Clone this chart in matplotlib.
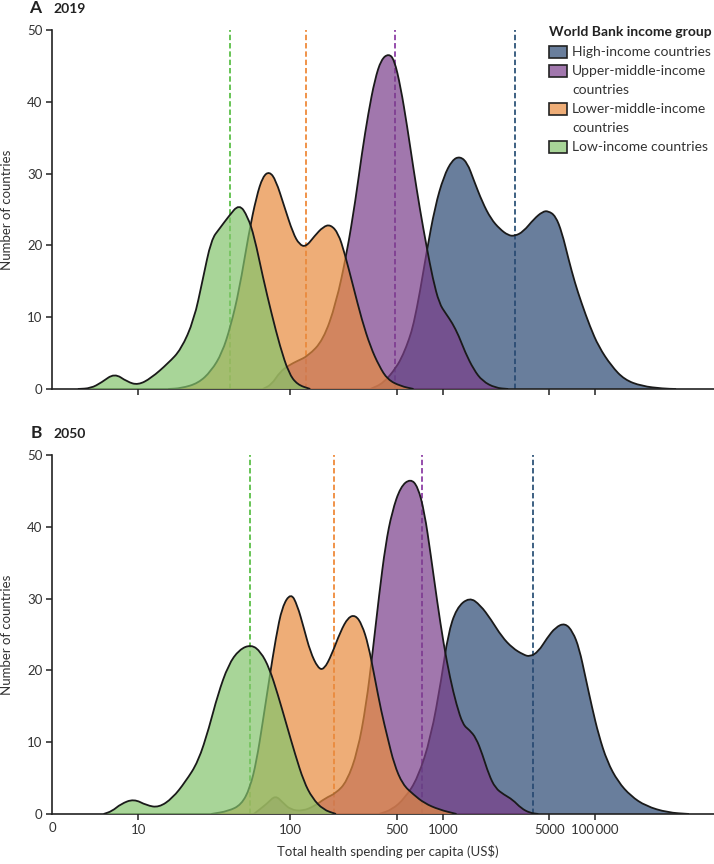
import matplotlib
matplotlib.use('Agg')
import matplotlib.pyplot as plt
from matplotlib.patches import PathPatch, Rectangle
from matplotlib.path import Path
from matplotlib.colors import to_rgba
import numpy as np

plt.rcParams['font.family'] = ['Lato', 'DejaVu Sans']

groups = ['High-income countries', 'Upper-middle-income\ncountries',
          'Lower-middle-income\ncountries', 'Low-income countries']
fill_colors = ['#2a4872', '#7a3e8a', '#e88b3e', '#83c46c']
mean_colors = ['#2d5478', '#8e3fa6', '#ef8a3a', '#5cbf48']

# curves: x = log10(US$ per capita), y = number of countries
# ---- 2019 ----
high_2019_x = [2.525, 2.610, 2.695, 2.740, 2.780, 2.808, 2.850, 2.893, 2.949, 3.006, 3.062, 3.113,
               3.161, 3.203, 3.260, 3.316, 3.373, 3.429, 3.472, 3.528, 3.599, 3.655, 3.692, 3.740,
               3.782, 3.825, 3.867, 3.910, 3.966, 4.023, 4.107, 4.192, 4.305, 4.446, 4.531]
high_2019_y = [0, 0.8, 3.0, 4.8, 7.0, 9.0, 13.5, 19.0, 25.4, 29.6, 31.9, 32.4,
               31.5, 29.1, 26.0, 23.7, 22.3, 21.4, 21.3, 21.9, 23.7, 24.7, 24.8, 24.1,
               21.8, 18.1, 14.8, 12.0, 8.7, 5.9, 3.2, 1.3, 0.4, 0.05, 0]

upper_2019_x = [1.819, 1.876, 1.932, 1.990, 2.045, 2.116, 2.215, 2.299, 2.370, 2.427, 2.469, 2.511,
                2.554, 2.596, 2.644, 2.681, 2.723, 2.766, 2.808, 2.850, 2.893, 2.935, 2.977, 3.020,
                3.062, 3.105, 3.147, 3.203, 3.260, 3.345, 3.429]
upper_2019_y = [0, 0.6, 2.4, 3.3, 3.9, 4.6, 6.8, 11.9, 18.9, 26.3, 32.8, 38.4,
                43.1, 45.9, 46.7, 45.9, 42.1, 36.6, 30.6, 25.0, 19.9, 15.3, 11.9, 10.5,
                9.2, 7.4, 5.1, 2.7, 1.1, 0.15, 0]

lower_2019_x = [1.198, 1.282, 1.395, 1.480, 1.551, 1.607, 1.664, 1.726, 1.777, 1.819, 1.862, 1.904,
                1.960, 2.017, 2.059, 2.102, 2.158, 2.215, 2.263, 2.314, 2.356, 2.412, 2.469, 2.525,
                2.582, 2.638, 2.723, 2.808]
lower_2019_y = [0, 0.1, 0.8, 2.5, 5.0, 8.7, 13.8, 21.6, 26.8, 29.6, 30.3, 29.1,
                25.4, 21.7, 20.1, 19.8, 21.3, 22.6, 22.9, 21.7, 18.9, 14.3, 9.6, 5.9,
                3.2, 1.3, 0.4, 0]

low_2019_x = [0.605, 0.690, 0.760, 0.845, 0.929, 1.000, 1.085, 1.198, 1.282, 1.367, 1.424, 1.480,
              1.537, 1.593, 1.664, 1.720, 1.763, 1.819, 1.876, 1.932, 1.989, 2.045, 2.130]
low_2019_y = [0, 0.1, 0.9, 2.2, 1.0, 0.55, 1.5, 3.6, 5.5, 9.6, 15.2, 20.8,
              22.4, 24.0, 25.8, 24.0, 21.2, 15.6, 10.5, 5.9, 2.2, 0.6, 0]

means_2019 = [3.472, 2.689, 2.105, 1.605]

# ---- 2050 ----
high_2050_x = [2.582, 2.667, 2.751, 2.836, 2.921, 2.992, 3.034, 3.090, 3.175, 3.246, 3.316, 3.387,
               3.458, 3.528, 3.571, 3.627, 3.684, 3.740, 3.802, 3.853, 3.895, 3.938, 3.980, 4.023,
               4.079, 4.150, 4.234, 4.333, 4.475, 4.616]
high_2050_y = [0, 0.6, 2.2, 5.0, 10.6, 18.9, 25.0, 28.7, 30.2, 29.1, 27.1, 24.7,
               23.1, 22.2, 21.9, 22.6, 24.5, 26.0, 26.6, 25.4, 23.1, 18.9, 14.8, 11.0,
               7.3, 4.5, 2.5, 1.1, 0.2, 0]

upper_2050_x = [1.760, 1.850, 1.901, 1.950, 2.000, 2.079, 2.158, 2.229, 2.299, 2.370, 2.441, 2.497,
                2.540, 2.582, 2.624, 2.667, 2.723, 2.788, 2.836, 2.879, 2.921, 2.963, 3.006, 3.048,
                3.090, 3.133, 3.175, 3.218, 3.260, 3.302, 3.345, 3.401, 3.458, 3.514, 3.571, 3.627]
upper_2050_y = [0, 1.5, 2.6, 1.6, 0.6, 0.4, 1.1, 2.2, 2.9, 4.5, 8.7, 15.2,
                22.6, 30.5, 37.5, 42.1, 45.6, 46.7, 45.6, 42.1, 36.1, 29.6, 23.6, 18.9,
                15.2, 12.4, 11.7, 10.6, 8.3, 5.5, 3.6, 2.7, 2.0, 0.8, 0.15, 0]

lower_2050_x = [1.480, 1.593, 1.678, 1.734, 1.777, 1.819, 1.862, 1.904, 1.946, 2.003, 2.045, 2.088,
                2.130, 2.181, 2.220, 2.271, 2.328, 2.379, 2.427, 2.469, 2.511, 2.554, 2.596, 2.638,
                2.681, 2.737, 2.808, 2.879, 2.977, 3.090]
lower_2050_y = [0, 0.4, 1.3, 3.6, 7.3, 12.9, 18.9, 24.5, 28.9, 30.8, 29.1, 25.9,
                22.6, 20.3, 20.1, 22.2, 25.4, 27.4, 27.7, 26.4, 23.6, 18.9, 14.3, 10.6,
                6.9, 4.1, 2.7, 1.5, 0.6, 0]

low_2050_x = [0.774, 0.830, 0.887, 0.972, 1.056, 1.136, 1.226, 1.311, 1.395, 1.466, 1.523, 1.593,
              1.664, 1.743, 1.805, 1.862, 1.918, 1.975, 2.031, 2.088, 2.144, 2.215, 2.299]
low_2050_y = [0, 0.4, 1.4, 2.1, 1.2, 0.9, 2.2, 4.5, 7.3, 12.0, 16.6, 20.8,
              22.9, 23.6, 22.6, 20.3, 16.6, 12.4, 8.3, 4.5, 2.2, 0.6, 0]

means_2050 = [3.593, 2.862, 2.288, 1.737]

xtick_vals = [10, 100, 500, 1000, 5000, 10000]
xtick_labels = ['10', '100', '500', '1000', '5000', '100\u2009000']
ytick_vals = [0, 10, 20, 30, 40, 50]

curves_2019 = [(high_2019_x, high_2019_y), (upper_2019_x, upper_2019_y),
               (lower_2019_x, lower_2019_y), (low_2019_x, low_2019_y)]
curves_2050 = [(high_2050_x, high_2050_y), (upper_2050_x, upper_2050_y),
               (lower_2050_x, lower_2050_y), (low_2050_x, low_2050_y)]

xmin, xmax = 10 ** 0.435, 10 ** 4.78
axis_col = '#222222'
text_col = '#333333'


def curve_path(lx, ly):
    # quadratic bezier through the read points (they act as control points)
    lx = np.asarray(lx, float)
    ly = np.asarray(ly, float)
    mx = (lx[:-1] + lx[1:]) / 2
    my = (ly[:-1] + ly[1:]) / 2
    verts = [(lx[0], ly[0]), (mx[0], my[0])]
    codes = [Path.MOVETO, Path.LINETO]
    for i in range(1, len(lx) - 1):
        verts += [(lx[i], ly[i]), (mx[i], my[i])]
        codes += [Path.CURVE3, Path.CURVE3]
    verts.append((lx[-1], ly[-1]))
    codes.append(Path.LINETO)
    verts = [(10 ** vx, vy) for vx, vy in verts]
    return verts, codes


fig = plt.figure(figsize=(7.14, 8.64), dpi=100)
ax_a = fig.add_axes([0.0728, 0.5498, 0.9272, 0.4155])
ax_b = fig.add_axes([0.0728, 0.0579, 0.9272, 0.4155])


def draw_panel(ax, curves, means, show_labels):
    ax.set_xscale('log')
    ax.set_xlim(xmin, xmax)
    ax.set_ylim(0, 50)
    for m, mc in zip(means, mean_colors):
        ax.axvline(10 ** m, color=mc, lw=1.3, ls=(0, (3, 1.6)), zorder=1)
    for i, ((lx, ly), fc) in enumerate(zip(curves, fill_colors)):
        verts, codes = curve_path(lx, ly)
        fill = PathPatch(Path(verts + [verts[0]], codes + [Path.CLOSEPOLY]),
                         facecolor=fc, alpha=0.7, lw=0, zorder=2 + i)
        edge = PathPatch(Path(verts, codes), fill=False, edgecolor='#1a1a1a',
                         lw=1.3, zorder=2 + i, joinstyle='round')
        ax.add_patch(fill)
        ax.add_patch(edge)

    ax.spines[['top', 'right']].set_visible(False)
    for s in ['left', 'bottom']:
        ax.spines[s].set_color(axis_col)
        ax.spines[s].set_linewidth(1.2)
    ax.set_xticks(xtick_vals)
    ax.set_xticks([xmin], minor=True)
    ax.set_yticks(ytick_vals)
    ax.tick_params(axis='both', which='major', length=4, width=1.1, color=axis_col,
                   labelsize=9.5, labelcolor=text_col, pad=3)
    ax.tick_params(axis='x', which='minor', length=0, pad=6, labelsize=9.5, labelcolor=text_col)
    if show_labels:
        ax.set_xticklabels(xtick_labels)
        ax.set_xticklabels(['0'], minor=True)
    else:
        ax.tick_params(axis='x', which='both', labelbottom=False)
    ax.set_ylabel('Number of countries', fontsize=9.5, color=text_col)
    ax.yaxis.set_label_coords(-0.059, 0.5)


draw_panel(ax_a, curves_2019, means_2019, False)
draw_panel(ax_b, curves_2050, means_2050, True)

ax_b.set_xlabel(r'Total health spending per capita (US\$)', fontsize=9.5, color=text_col)
ax_b.xaxis.label.set_va('center')
ax_b.xaxis.set_label_coords(0.507, -0.104)

fig.text(29 / 714, 1 - 8 / 864, 'A', fontsize=12.5, fontweight='bold', color='#222', va='center')
fig.text(53 / 714, 1 - 9 / 864, '2019', fontsize=10, fontweight='bold', color='#222', va='center')
fig.text(31 / 714, 1 - 433 / 864, 'B', fontsize=12.5, fontweight='bold', color='#222', va='center')
fig.text(53 / 714, 1 - 434 / 864, '2050', fontsize=10, fontweight='bold', color='#222', va='center')

# legend, drawn by hand so the swatch sits on the first line of a wrapped label
fig.text(549 / 714, 1 - 32 / 864, 'World Bank income group', fontsize=10, fontweight='bold',
         color='#222', va='center')
row = 52
for name, fc in zip(groups, fill_colors):
    fig.add_artist(Rectangle((549 / 714, 1 - (row + 5.5) / 864), 18 / 714, 11 / 864,
                             transform=fig.transFigure, facecolor=to_rgba(fc, 0.7),
                             edgecolor=axis_col, lw=1.2))
    for j, line in enumerate(name.split('\n')):
        fig.text(572 / 714, 1 - (row + 19 * j) / 864, line, fontsize=10, color=text_col,
                 va='center')
    row += 19 * len(name.split('\n'))

fig.savefig('out.png', dpi=100)
